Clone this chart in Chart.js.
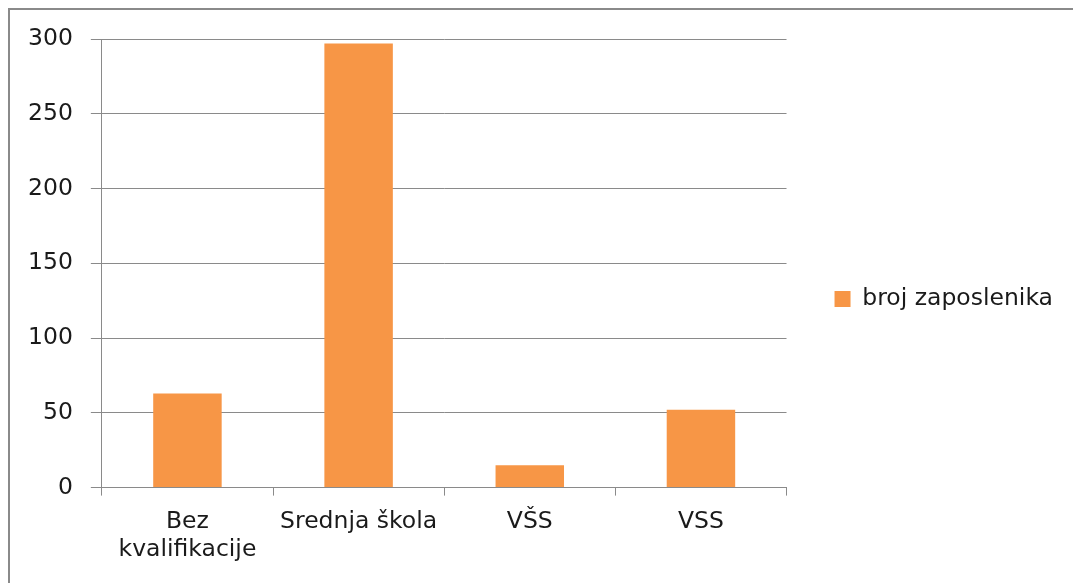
<!DOCTYPE html>
<html><head><meta charset="utf-8">
<script src="https://cdn.jsdelivr.net/npm/chart.js@4/dist/chart.umd.min.js"></script>
<style>
html,body{margin:0;padding:0;background:#fff;overflow:hidden;width:1073px;height:583px}
#frame{position:absolute;left:8px;top:8px;width:1200px;height:700px;border-left:2px solid #8a8a8a;border-top:2px solid #8a8a8a;}
#wrap{position:absolute;left:0;top:0;width:1073px;height:583px}
</style></head><body>
<div id="frame"></div>
<div id="wrap"><canvas id="c" width="1073" height="583"></canvas></div>
<script>
const categories = [["Bez", "kvalifikacije"], "Srednja škola", "VŠS", "VSS"];
const seriesName = "broj zaposlenika";
const values = [63, 297, 15, 52];
const yTickValues = [0, 50, 100, 150, 200, 250, 300];

const FONT = "'DejaVu Sans', sans-serif";
const FSIZE = 23.5;
Chart.defaults.font.family = FONT;
Chart.defaults.color = "#1a1a1a";

new Chart(document.getElementById('c'), {
  type: 'bar',
  data: {
    labels: categories,
    datasets: [{
      label: seriesName,
      data: values,
      backgroundColor: '#F79646',
      borderWidth: 0,
      categoryPercentage: 1.0,
      barPercentage: 0.4
    }]
  },
  options: {
    responsive: false,
    animation: false,
    devicePixelRatio: 1,
    layout: { padding: { left: 10, top: 22, right: 10, bottom: 7 } },
    plugins: {
      tooltip: { enabled: false },
      title: { display: true, text: '', padding: { top: 0, bottom: 0 }, font: { size: 17, lineHeight: 1 } },
      legend: {
        position: 'right',
        maxWidth: 400,
        labels: {
          boxWidth: 16, boxHeight: 16, padding: 48,
          font: { size: FSIZE, family: FONT },
          color: '#1a1a1a'
        }
      }
    },
    scales: {
      x: {
        grid: { display: true, drawOnChartArea: false, drawTicks: true, tickLength: 8, color: '#8a8a8a', offset: true },
        border: { color: '#8a8a8a', width: 1 },
        ticks: { font: { size: FSIZE, family: FONT }, padding: 12, color: '#1a1a1a', maxRotation: 0 }
      },
      y: {
        min: 0, max: 300,
        afterBuildTicks: (axis) => { axis.ticks = yTickValues.map(v => ({ value: v })); },
        grid: { color: '#8a8a8a', tickLength: 11, drawTicks: true },
        border: { color: '#8a8a8a', width: 1 },
        ticks: { font: { size: FSIZE, family: FONT }, padding: 18, color: '#1a1a1a' }
      }
    }
  }
});
</script>
</body></html>
